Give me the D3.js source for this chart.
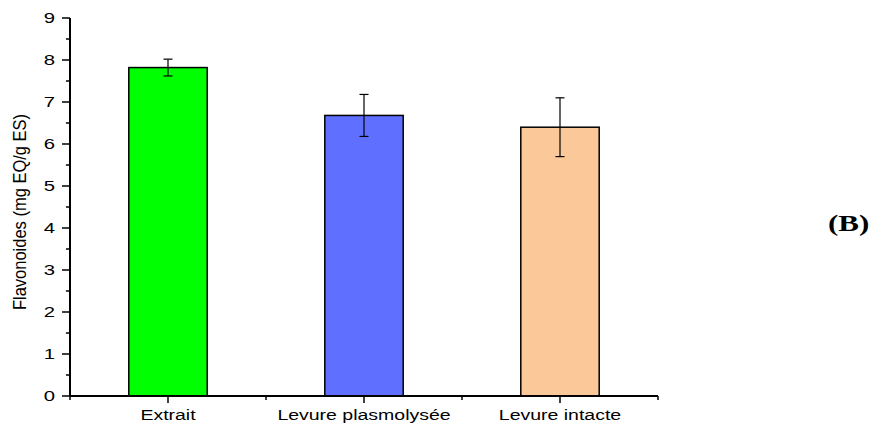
<!DOCTYPE html>
<html>
<head>
<meta charset="utf-8">
<script src="https://cdn.jsdelivr.net/npm/d3@7"></script>
<style>
  body { margin: 0; background: #fff; }
  svg { display: block; }
</style>
</head>
<body>
<div class="container"></div>
<script>
var categories = ['Extrait', 'Levure plasmolysée', 'Levure intacte'];
var values = [7.82, 6.68, 6.40];
var errors = [0.20, 0.50, 0.70];
var colors = ['#00ff00', '#5f6fff', '#fbc899'];
var yTicks = [0, 1, 2, 3, 4, 5, 6, 7, 8, 9];

var W = 889, H = 425;
var FONT = 'Arial, "Liberation Sans", sans-serif';
var svg = d3.select('.container').append('svg')
	.attr('width', W)
	.attr('height', H);

var x = d3.scaleBand().domain(categories).range([70, 658]).paddingInner(0.6).paddingOuter(0.3);
var y = d3.scaleLinear().domain([0, 9]).range([396, 18]);

// bars
svg.selectAll('.bar').data(values).enter().append('rect')
	.attr('x', function(d, i) { return x(categories[i]); })
	.attr('y', function(d) { return y(d); })
	.attr('width', x.bandwidth())
	.attr('height', function(d) { return y(0) - y(d); })
	.style('fill', function(d, i) { return colors[i]; })
	.style('stroke', '#000')
	.style('stroke-width', 1.5);

// error bars
var eb = svg.selectAll('.err').data(values).enter().append('g')
	.attr('transform', function(d, i) { return 'translate(' + (x(categories[i]) + x.bandwidth() / 2) + ',0)'; })
	.style('stroke', '#000')
	.style('stroke-width', 1.2);
eb.append('line')
	.attr('y1', function(d, i) { return y(d + errors[i]); })
	.attr('y2', function(d, i) { return y(d - errors[i]); });
eb.append('line').attr('x1', -4.5).attr('x2', 4.5)
	.attr('y1', function(d, i) { return y(d + errors[i]); })
	.attr('y2', function(d, i) { return y(d + errors[i]); });
eb.append('line').attr('x1', -4.5).attr('x2', 4.5)
	.attr('y1', function(d, i) { return y(d - errors[i]); })
	.attr('y2', function(d, i) { return y(d - errors[i]); });

// y axis
var yAxis = svg.append('g').attr('transform', 'translate(70,0)');
yAxis.append('line').attr('y1', y(9)).attr('y2', y(0)).style('stroke', '#000').style('stroke-width', 2);
yAxis.selectAll('.maj').data(yTicks).enter().append('line')
	.attr('x1', -8).attr('x2', 0)
	.attr('y1', function(d) { return y(d); }).attr('y2', function(d) { return y(d); })
	.style('stroke', '#000').style('stroke-width', 1.5);
yAxis.selectAll('.min').data(yTicks.slice(0, -1)).enter().append('line')
	.attr('x1', -4).attr('x2', 0)
	.attr('y1', function(d) { return y(d + 0.5); }).attr('y2', function(d) { return y(d + 0.5); })
	.style('stroke', '#000').style('stroke-width', 1.5);
// labels are stretched sideways in the original picture
yAxis.selectAll('.lab').data(yTicks).enter().append('text')
	.attr('transform', function(d) { return 'translate(-15,' + y(d) + ') scale(1.45,1)'; })
	.attr('dy', '0.36em')
	.attr('text-anchor', 'end')
	.style('font-size', '14px')
	.style('font-family', FONT)
	.text(function(d) { return d; });

// x axis
var xAxis = svg.append('g').attr('transform', 'translate(0,396)');
xAxis.append('line').attr('x1', 70).attr('x2', 658).style('stroke', '#000').style('stroke-width', 2);
xAxis.selectAll('.maj').data(categories).enter().append('line')
	.attr('x1', function(d) { return x(d) + x.bandwidth() / 2; })
	.attr('x2', function(d) { return x(d) + x.bandwidth() / 2; })
	.attr('y1', 0).attr('y2', 7)
	.style('stroke', '#000').style('stroke-width', 1.5);
xAxis.selectAll('.min').data(d3.range(categories.length + 1)).enter().append('line')
	.attr('x1', function(i) { return 70 + i * x.step(); })
	.attr('x2', function(i) { return 70 + i * x.step(); })
	.attr('y1', 0).attr('y2', 4)
	.style('stroke', '#000').style('stroke-width', 1.5);
xAxis.selectAll('.lab').data(categories).enter().append('text')
	.attr('transform', function(d) { return 'translate(' + (x(d) + x.bandwidth() / 2) + ',24) scale(1.3,1)'; })
	.attr('text-anchor', 'middle')
	.style('font-size', '15px')
	.style('font-family', FONT)
	.text(function(d) { return d; });

// axis title
svg.append('text')
	.attr('transform', 'translate(26,212) rotate(-90) scale(1,1.1)')
	.attr('text-anchor', 'middle')
	.style('font-size', '16.5px')
	.style('font-family', FONT)
	.text('Flavonoides (mg EQ/g ES)');

svg.append('text')
	.attr('transform', 'translate(828,231) scale(1.35,1)')
	.attr('text-anchor', 'start')
	.style('font', 'bold 23px "Times New Roman", "Liberation Serif", serif')
	.text('(B)');
</script>
</body>
</html>
